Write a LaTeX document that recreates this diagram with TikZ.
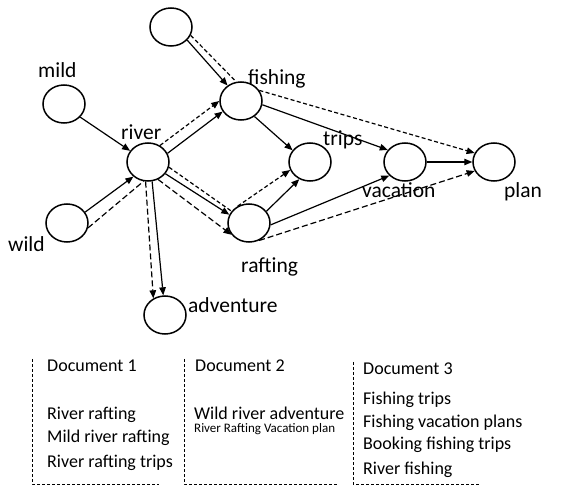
\documentclass[tikz,border=0pt]{standalone}
\usepackage{fontspec}
\setmainfont{Carlito}
\usetikzlibrary{arrows.meta,shapes.geometric}

\begin{document}
\begin{tikzpicture}[x=1pt,y=-1pt,
  term/.style={ellipse, draw, line width=1.5pt, minimum width=42pt, minimum height=38pt, inner sep=0pt},
  lbl/.style={anchor=base west, inner sep=0pt, font=\fontsize{21.5}{25}\selectfont},
  doc/.style={anchor=base west, inner sep=0pt, font=\fontsize{18}{21}\selectfont},
  small/.style={anchor=base west, inner sep=0pt, font=\fontsize{13}{15}\selectfont},
  link/.style={line width=1.2pt, -{Triangle[length=8pt,width=6.5pt]}},
  hint/.style={line width=1.2pt, dash pattern=on 4pt off 2.5pt},
  hintarrow/.style={hint, -{Triangle[length=8pt,width=6.5pt]}},
  frame/.style={line width=0.9pt, dash pattern=on 3pt off 2pt}]

\path[use as bounding box] (0,0) rectangle (587,489);

% term nodes
\node[term] (nTop) at (171,27) {};
\node[term] (nMild) at (64,104) {};
\node[term] (nFish) at (241,101) {};
\node[term] (nRiver) at (148,162) {};
\node[term] (nTrips) at (310,162) {};
\node[term] (nVac) at (405,162) {};
\node[term] (nPlan) at (494,162) {};
\node[term] (nWild) at (67,223) {};
\node[term] (nRaft) at (249,223) {};
\node[term] (nAdv) at (165,315) {};

% term labels
\node[lbl] (tMild) at (38,78) {mild};
\node[lbl] (tRiver) at (121,140) {river};
\node[lbl] (tFish) at (248,85) {fishing};
\node[lbl] (tTrips) at (323,146) {trips};
\node[lbl] (tVac) at (362,198) {vacation};
\node[lbl] (tPlan) at (504,198) {plan};
\node[lbl] (tWild) at (8,252) {wild};
\node[lbl] (tRaft) at (241,273) {rafting};
\node[lbl] (tAdv) at (188,313) {adventure};

% solid links
\draw[link] (nTop.-39) -- (nFish.131);
\draw[link] (nMild.-39) -- (nRiver.148);
\draw[link] (nWild.31) -- (nRiver.225);
\draw[link] (nRiver.24) -- (nFish.210);
\draw[link] (nRiver.-34) -- (nRaft.157);
\draw[link] (nRiver.-78) -- (nAdv.95);
\draw[link] (nFish.-49) -- (nTrips.146);
\draw[link] (nFish.-10) -- (nVac.145);
\draw[link] (nRaft.34) -- (nTrips.238);
\draw[link] (nRaft.-5) -- (nVac.221);
\draw[link] (nVac.0) -- (nPlan.180);

% dashed links
\draw[hint] (nTop.-23) -- (nFish.104);
\draw[hint, dash pattern=on 6pt off 3pt] (nWild.-13) -- (nRiver.257);
\draw[hintarrow] (nRiver.54) -- (nFish.180);
\draw[hint] (nRiver.-14) -- (nRaft.146);
\draw[hintarrow] (nRaft.124) -- (nTrips.202);
\draw[hintarrow, dash pattern=on 6pt off 3pt] (nRiver.-60) -- (nRaft.214);
\draw[hintarrow, dash pattern=on 6pt off 3pt] (nRiver.263) -- (nAdv.125);
\draw[hintarrow] (nFish.30) -- (nPlan.155);
\draw[hintarrow, dash pattern=on 6pt off 3pt] (nRaft.-60) -- (nPlan.205);

% document frames
\coordinate (f1t) at (32,359);
\coordinate (f1c) at (32,484);
\coordinate (f1e) at (159,484);
\draw[frame] (f1t) -- (f1c) -- (f1e);
\coordinate (f2t) at (184,359);
\coordinate (f2c) at (184,484);
\coordinate (f2e) at (338,484);
\draw[frame] (f2t) -- (f2c) -- (f2e);
\coordinate (f3t) at (353,362);
\coordinate (f3c) at (353,484);
\coordinate (f3e) at (480,484);
\draw[frame] (f3t) -- (f3c) -- (f3e);

% document 1
\node[doc] (d1h) at (47,372) {Document 1};
\node[doc] (d1a) at (47,419) {River rafting};
\node[doc] (d1b) at (47,442) {Mild river rafting};
\node[doc] (d1c) at (47,467) {River rafting trips};

% document 2
\node[doc] (d2h) at (195,372) {Document 2};
\node[doc] (d2a) at (194,419) {Wild river adventure};
\node[small] (d2b) at (194,432) {River Rafting Vacation plan};

% document 3
\node[doc] (d3h) at (363,374) {Document 3};
\node[doc] (d3a) at (363,404) {Fishing trips};
\node[doc] (d3b) at (363,427) {Fishing vacation plans};
\node[doc] (d3c) at (363,449) {Booking fishing trips};
\node[doc] (d3d) at (363,474) {River fishing};
\end{tikzpicture}
\end{document}
